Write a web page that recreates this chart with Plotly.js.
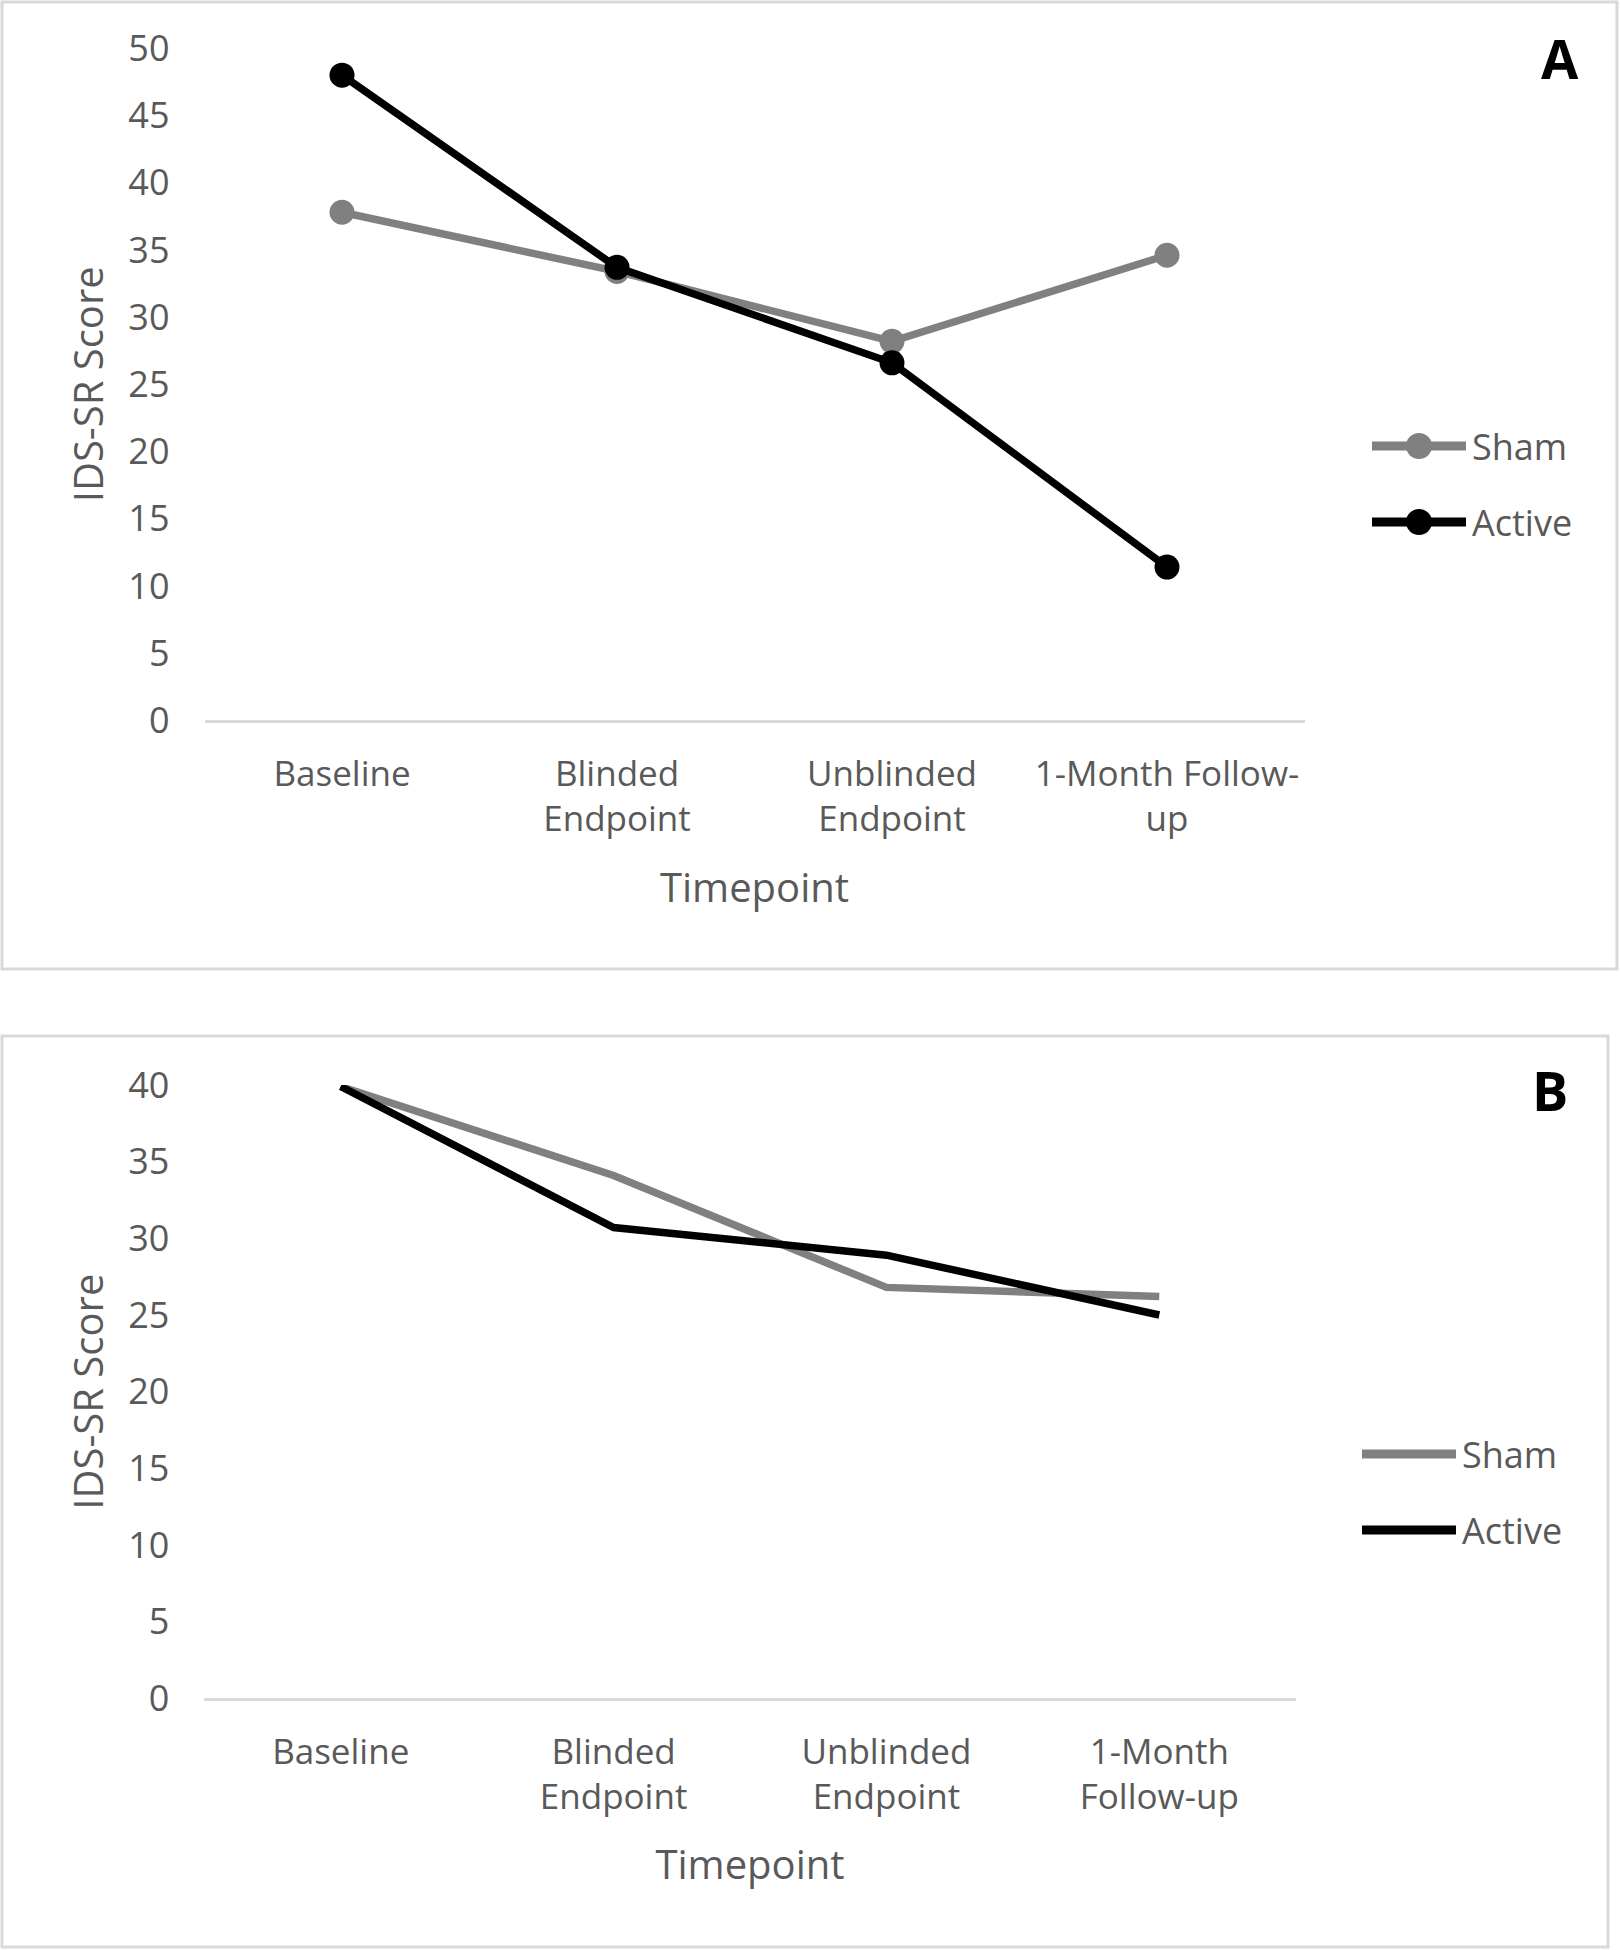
<!DOCTYPE html>
<html>
<head>
<meta charset="utf-8">
<script src="https://cdn.plot.ly/plotly-3.0.1.min.js"></script>
<style>
  html, body { margin: 0; padding: 0; background: #fff; }
  #chart { width: 1620px; height: 1950px; }
</style>
</head>
<body>
<div id="chart"></div>
<script>
// Timepoints (x positions 0..3 on both panels)
const timepoints = [0, 1, 2, 3];
const tickTextA = ['Baseline', 'Blinded<br>Endpoint', 'Unblinded<br>Endpoint', '1-Month Follow-<br>up'];
const tickTextB = ['Baseline', 'Blinded<br>Endpoint', 'Unblinded<br>Endpoint', '1-Month<br>Follow-up'];

// Panel A: IDS-SR score means
const shamA   = [37.8, 33.4, 28.2, 34.6];
const activeA = [48.0, 33.7, 26.6, 11.4];

// Panel B: IDS-SR score means
const shamB   = [39.9, 34.1, 26.8, 26.2];
const activeB = [39.9, 30.7, 28.9, 25.0];

const seriesNames = ['Sham', 'Active'];
const seriesColors = ['#808080', '#000000'];

const W = 1620, H = 1950;
const TEXT = '#595959';
const FONT = 'Open Sans, Noto Sans, sans-serif';

// pixel -> paper helpers
const px = x => x / W;
const py = y => 1 - y / H;

function lineTrace(x, y, i, axes, withMarkers) {
  return {
    x, y,
    xaxis: axes[0], yaxis: axes[1],
    type: 'scatter',
    mode: withMarkers ? 'lines+markers' : 'lines',
    name: seriesNames[i],
    line: { color: seriesColors[i], width: 7.5 },
    marker: { color: seriesColors[i], size: 25 },
    cliponaxis: false,
    showlegend: false,
    hoverinfo: 'x+y',
  };
}

const traces = [
  lineTrace(timepoints, shamA, 0, ['x', 'y'], true),
  lineTrace(timepoints, activeA, 1, ['x', 'y'], true),
  lineTrace(timepoints, shamB, 0, ['x2', 'y2'], false),
  lineTrace(timepoints, activeB, 1, ['x2', 'y2'], false),
];

function xAxis(domain, ticktext, anchor, standoff) {
  return {
    domain, anchor,
    range: [-0.5, 3.5],
    tickvals: timepoints,
    ticktext,
    showgrid: false,
    zeroline: false,
    showline: true,
    linecolor: '#d9d9d9',
    linewidth: 2.5,
    ticks: '',
    ticklabelstandoff: 21,
    tickfont: { family: FONT, size: 35, color: TEXT },
    title: { text: 'Timepoint', font: { family: FONT, size: 40, color: TEXT }, standoff },
    fixedrange: true,
  };
}

function yAxis(domain, range, dtick, anchor) {
  return {
    domain, anchor,
    range,
    dtick,
    showgrid: false,
    zeroline: false,
    showline: false,
    ticks: '',
    ticklabelstandoff: 34,
    tickfont: { family: FONT, size: 36, color: TEXT },
    title: { text: 'IDS-SR Score', font: { family: FONT, size: 40, color: TEXT }, standoff: 12 },
    fixedrange: true,
  };
}

// manual legend with long line samples like the original
function legendItems(xLine0, xLine1, xText, ys, withMarkers) {
  const shapes = [], annotations = [];
  ys.forEach((y, i) => {
    shapes.push({
      type: 'line', xref: 'paper', yref: 'paper',
      x0: px(xLine0), x1: px(xLine1), y0: py(y), y1: py(y),
      line: { color: seriesColors[i], width: 9 },
    });
    if (withMarkers) {
      const cx = (xLine0 + xLine1) / 2, r = 13;
      shapes.push({
        type: 'circle', xref: 'paper', yref: 'paper',
        x0: px(cx - r), x1: px(cx + r), y0: py(y - r), y1: py(y + r),
        fillcolor: seriesColors[i], line: { color: seriesColors[i], width: 0 },
      });
    }
    annotations.push({
      xref: 'paper', yref: 'paper', x: px(xText), y: py(y),
      xanchor: 'left', yanchor: 'middle', showarrow: false,
      text: seriesNames[i], font: { family: FONT, size: 36, color: TEXT },
    });
  });
  return { shapes, annotations };
}

const legA = legendItems(1372, 1466, 1470, [446, 522], true);
const legB = legendItems(1362, 1456, 1460, [1454, 1530], false);

const frames = [
  { type: 'rect', xref: 'paper', yref: 'paper', x0: px(2), x1: px(1617), y0: py(969), y1: py(2),
    line: { color: '#d9d9d9', width: 3 }, layer: 'below' },
  { type: 'rect', xref: 'paper', yref: 'paper', x0: px(2), x1: px(1608), y0: py(1947), y1: py(1036),
    line: { color: '#d9d9d9', width: 3 }, layer: 'below' },
];

const panelLabels = [
  { xref: 'paper', yref: 'paper', x: px(1560), y: py(58), xanchor: 'center', yanchor: 'middle',
    showarrow: false, text: '<b>A</b>', font: { family: FONT, size: 54, color: '#000' } },
  { xref: 'paper', yref: 'paper', x: px(1550), y: py(1090), xanchor: 'center', yanchor: 'middle',
    showarrow: false, text: '<b>B</b>', font: { family: FONT, size: 54, color: '#000' } },
];

const layout = {
  width: W, height: H,
  margin: { l: 0, r: 0, t: 0, b: 0 },
  paper_bgcolor: '#fff',
  plot_bgcolor: 'rgba(0,0,0,0)',
  showlegend: false,
  xaxis:  xAxis([px(204.5), px(1304.5)], tickTextA, 'y', 34),
  yaxis:  yAxis([py(720.3), py(48.3)], [0, 50], 5, 'x'),
  xaxis2: xAxis([px(204.3), px(1295.7)], tickTextB, 'y2', 33),
  yaxis2: yAxis([py(1698.3), py(1085)], [0, 40], 5, 'x2'),
  shapes: [...frames, ...legA.shapes, ...legB.shapes],
  annotations: [...panelLabels, ...legA.annotations, ...legB.annotations],
};

Plotly.newPlot('chart', traces, layout, { displayModeBar: false, staticPlot: true });
</script>
</body>
</html>
